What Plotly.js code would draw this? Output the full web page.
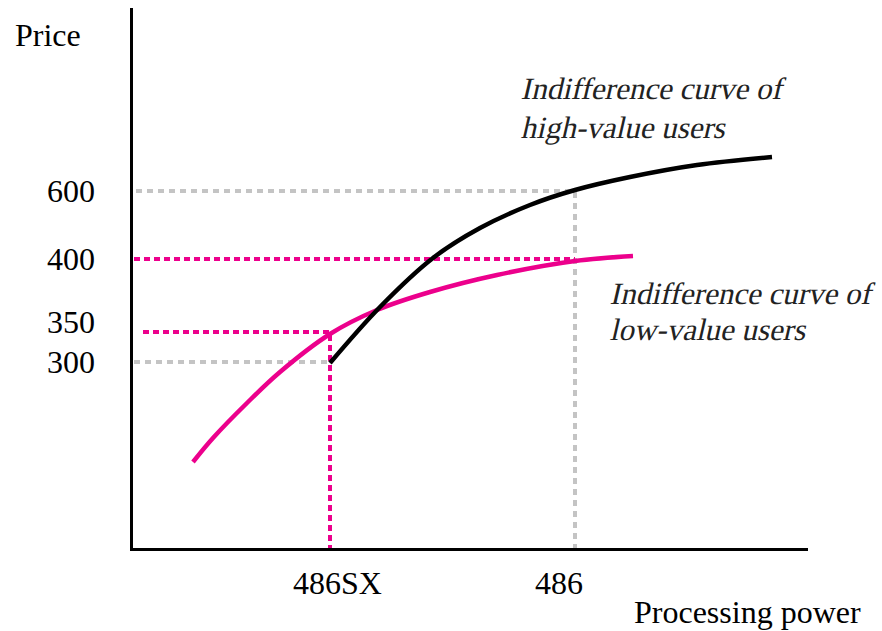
<!DOCTYPE html>
<html>
<head>
<meta charset="utf-8">
<script src="https://cdn.plot.ly/plotly-3.0.1.min.js"></script>
<style>html,body{margin:0;padding:0;background:#fff;}#chart{width:882px;height:631px;}</style>
</head>
<body>
<div id="chart"></div>
<script>
// Schematic units: x = processing power, y = price position (chart is not to scale)
const highX = [197, 247, 300, 347, 397, 442, 497, 564, 639];
const highY = [185, 241, 290, 320, 343, 358, 371, 383, 391];
const lowX = [60, 80, 114, 147, 197, 244, 297, 364, 442, 500];
const lowY = [86, 110, 145, 176, 214, 238, 256, 273, 287, 292];

const productNames = ['486SX', '486'];
const productX = [197, 442];
const priceLabels = ['600', '400', '350', '300'];
const priceY = [357, 289, 216, 186];
const curveLabelLines = ['Indifference curve of', 'high-value users', 'Indifference curve of', 'low-value users'];

const PINK = '#EC008C';
const GRAY = '#C4C4C4';

const traces = [
  // grey guides: 600 at 486, 300 at 486SX
  {x: [3, productX[1], productX[1]], y: [priceY[0], priceY[0], 0], mode: 'lines',
   line: {color: GRAY, width: 4, dash: '6px,5px'}, hoverinfo: 'skip'},
  {x: [1, productX[0]], y: [priceY[3], priceY[3]], mode: 'lines',
   line: {color: GRAY, width: 4, dash: '6px,5px'}, hoverinfo: 'skip'},
  // pink guides: 400 to 486, 350 at 486SX
  {x: [1, productX[1]], y: [priceY[1], priceY[1]], mode: 'lines',
   line: {color: PINK, width: 4, dash: '6px,4px'}, hoverinfo: 'skip'},
  {x: [10, productX[0], productX[0]], y: [priceY[2], priceY[2], 0], mode: 'lines',
   line: {color: PINK, width: 4, dash: '6px,4px'}, hoverinfo: 'skip'},
  // curves
  {x: lowX, y: lowY, mode: 'lines', line: {color: PINK, width: 4.5, shape: 'spline', smoothing: 1}, hoverinfo: 'skip'},
  {x: highX, y: highY, mode: 'lines', line: {color: '#000', width: 4.5, shape: 'spline', smoothing: 1}, hoverinfo: 'skip'}
];

const serif = 'Liberation Serif, Times New Roman, serif';
const italicFont = {family: serif, size: 31, color: '#222'};
const annotations = [];
const labelShift = [0, 0, 10, 0];
priceLabels.forEach((t, i) => {
  annotations.push({text: t, xref: 'paper', yref: 'y', x: -0.053, y: priceY[i] + labelShift[i],
    xanchor: 'right', yanchor: 'middle', showarrow: false, font: {family: serif, size: 32, color: '#000'}});
});
const productLabelX = [204, 426];
productNames.forEach((t, i) => {
  annotations.push({text: t, xref: 'x', yref: 'paper', x: productLabelX[i], y: -0.065,
    xanchor: 'center', yanchor: 'middle', showarrow: false, font: {family: serif, size: 32, color: '#000'}});
});
annotations.push({text: 'Price', xref: 'paper', yref: 'paper', x: -0.178, y: 0.95,
  xanchor: 'left', yanchor: 'middle', showarrow: false, font: {family: serif, size: 32, color: '#000'}});
annotations.push({text: 'Processing power', xref: 'paper', yref: 'paper', x: 1.081, y: -0.118,
  xanchor: 'right', yanchor: 'middle', showarrow: false, font: {family: serif, size: 32, color: '#000'}});
const lineX = [0.5748, 0.5748, 0.7067, 0.7067];
const lineY = [0.851, 0.779, 0.472, 0.404];
const firstSlanted = annotations.length;
curveLabelLines.forEach((t, i) => {
  annotations.push({text: t, xref: 'paper', yref: 'paper', x: lineX[i], y: lineY[i],
    xanchor: 'left', yanchor: 'middle', align: 'left', showarrow: false, font: italicFont});
});

const layout = {
  width: 882, height: 631,
  margin: {l: 133, r: 74, t: 8, b: 83, pad: 0},
  paper_bgcolor: '#fff', plot_bgcolor: '#fff',
  showlegend: false,
  xaxis: {range: [0, 675], showgrid: false, zeroline: false, showticklabels: false,
    showline: true, linecolor: '#000', linewidth: 3, ticks: ''},
  yaxis: {range: [0, 540], showgrid: false, zeroline: false, showticklabels: false,
    showline: true, linecolor: '#000', linewidth: 3, ticks: ''},
  annotations: annotations
};

function slantLabels() {
  // no serif italic face is installed: slant the serif text to imitate italics
  document.querySelectorAll('g.annotation').forEach(g => {
    const idx = parseInt(g.getAttribute('data-index'), 10);
    if (idx >= firstSlanted) {
      const t = g.querySelector('text');
      if (t) {
        t.style.transformBox = 'fill-box';
        t.style.transformOrigin = '0% 50%';
        t.style.transform = 'skewX(-13deg)';
      }
    }
  });
}

Plotly.newPlot('chart', traces, layout, {staticPlot: true, displayModeBar: false}).then(slantLabels);
slantLabels();
</script>
</body>
</html>
